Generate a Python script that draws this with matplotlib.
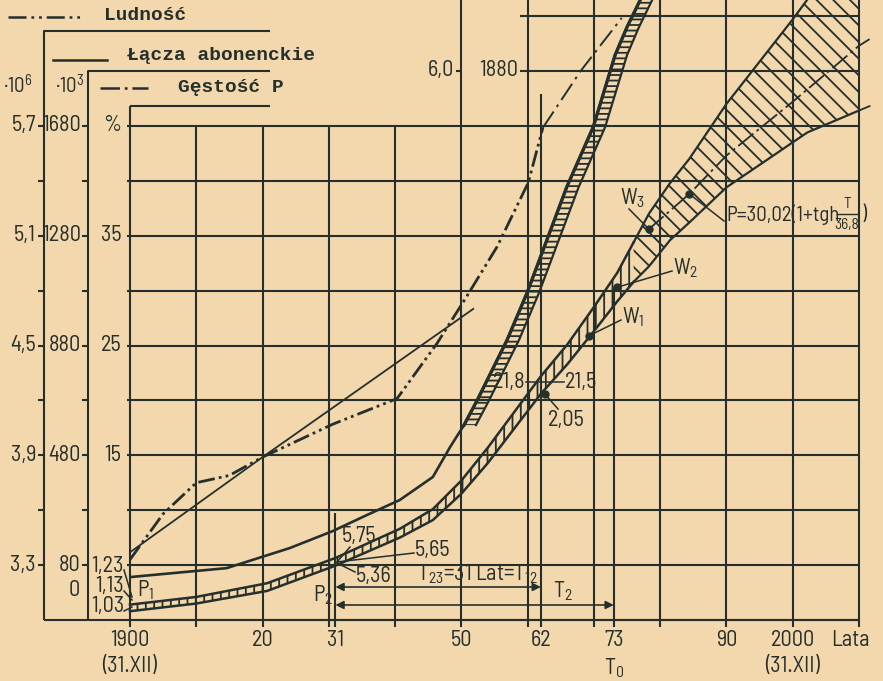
import matplotlib
matplotlib.use("Agg")
import matplotlib.pyplot as plt
from matplotlib import font_manager

W, H, DPI = 883, 681, 100
PAPER = "#f3d7ad"
INK = "#25302c"

names = {f.name for f in font_manager.fontManager.ttflist}
NUM = next((n for n in ("Barlow Semi Condensed", "Barlow Condensed", "Roboto Condensed",
                        "Archivo Narrow", "PT Sans Narrow", "Liberation Sans Narrow")
            if n in names), "Roboto")
NUM_SIZE = 16 if NUM != "Roboto" else 13
MONO = "Liberation Mono"

plt.rcParams["lines.scale_dashes"] = False
plt.rcParams["hatch.linewidth"] = 1.3
plt.rcParams["hatch.color"] = INK
plt.rcParams["mathtext.fontset"] = "custom"
plt.rcParams["mathtext.rm"] = NUM
plt.rcParams["mathtext.it"] = NUM
plt.rcParams["mathtext.bf"] = NUM

# ── Data ──
# Ludność (population), millions
lud_years = [1900, 1905, 1910, 1915, 1920, 1930.6, 1940.3, 1946.3, 1950.5, 1955.4, 1960.1, 1962.3]
lud_mln = [3.33, 3.58, 3.75, 3.79, 3.89, 4.07, 4.21, 4.51, 4.75, 5.04, 5.39, 5.69]
lud_fc_years = [1962.3, 1968.0, 1974.2]
lud_fc_mln = [5.69, 6.00, 6.29]
# thin straight trend line (population scale)
trend_years = [1900, 1920, 1951.8]
trend_mln = [3.37, 3.89, 4.70]

# Łącza abonenckie (subscriber lines), thousands
lacza_years = [1900.3, 1914.6, 1924.1, 1930.6, 1935.8, 1940.7, 1945.7, 1948.3,
               1950.4, 1952.4, 1956.9, 1959.9, 1962.9, 1965.9, 1969.9, 1973.2, 1975.0, 1977.0]
lacza_k = [37, 69, 142, 204, 263, 317, 401, 510,
           590, 681, 900, 1071, 1264, 1457, 1676, 1938, 2040, 2139]
lacza_band_start = 8          # index where the ladder band begins
lacza_band_years = 1.8        # band width, years

# Gęstość P (density), %  — narrow ladder band
dens_years = [1900, 1910, 1920.7, 1931, 1940.7, 1945.7, 1950, 1954, 1958,
              1962, 1966, 1970, 1973.5, 1976]
dens_lo = [0.8, 1.5, 2.65, 4.95, 7.5, 9.1, 11.5, 14.3, 17.45, 20.6, 23.3, 26.3, 29.0, 30.8]
dens_hi = [1.4, 2.1, 3.35, 5.65, 8.3, 10.1, 12.7, 15.7, 18.95, 22.2, 25.1, 28.5, 31.6, 34.4]
# forecast band (hatched)
fc_years = [1976, 1978.3, 1981.5, 1984.4, 1990, 2000, 2002.2, 2010]
fc_lo = [30.8, 32.2, 34.6, 36.2, 39.4, 43.5, 44.4, 46.4]
fc_hi = [34.4, 37.0, 39.8, 42.0, 47.0, 54.7, 56.5, 62.5]
fc_lo_ext = [2010, 2011.6]
fc_lo_ext_val = [46.4, 46.8]
mid_years = [1978.3, 1984.4, 1990, 2000, 2010, 2011.6]
mid_pct = [35.6, 38.8, 42.3, 47.2, 52.3, 52.9]

# marked points
w_years = [1969.3, 1973.5, 1978.3]
w_pct = [25.9, 30.3, 35.6]
pt62 = (1962.6, 20.6)
pt84 = (1984.4, 38.8)

# axis scales (label values)
lud_labels = ["3,3", "3,9", "4,5", "5,1", "5,7"]
lacza_labels = ["80", "480", "880", "1280", "1680"]
pct_labels = ["15", "25", "35", "%"]
year_ticks = [1900, 1920, 1931, 1950, 1962, 1973, 1990, 2000]
year_labels = ["1900", "20", "31", "50", "62", "73", "90", "2000"]


def from_lud(m):
    return (m - 3.0) / 0.3 * 5


def from_lacza(k):
    return (k + 120) / 200 * 5


# ── pixel layout helper (text placement only) ──
SX = 6.627   # px per year
SY = 10.98   # px per percent


def px(x, y):
    return 1900 + (x - 130) / SX, (620 - y) / SY


fig = plt.figure(figsize=(W / DPI, H / DPI), dpi=DPI)
fig.patch.set_facecolor(PAPER)
ax = fig.add_axes([0, 0, 1, 1])
ax.set_facecolor(PAPER)
ax.set_xlim(1900 - 130 / SX, 1900 + (W - 130) / SX)
ax.set_ylim(-(H - 620) / SY, 620 / SY)
ax.axis("off")

GRID = dict(color=INK, lw=1.5, solid_capstyle="butt", zorder=1)

# ── grid ──
for yr in range(1910, 2011, 10):
    top = 45 if yr < 1950 else 60
    ax.plot([yr, yr], [-0.6, top], **GRID)
ax.plot([1900, 1900], [-0.6, px(0, 106)[1]], **GRID)
ax.plot([1931, 1931], [-0.6, 9.7], **GRID)
ax.plot([1962, 1962], [-0.6, 47.9], **GRID)
ax.plot([1973, 1973], [-0.6, 30.3], **GRID)
for p in range(0, 50, 5):
    ax.plot([1899.5 if p else 1900, 2010], [p, p], **GRID)
for p in (50, 55):
    ax.plot([1958.9, 2010], [p, p], **GRID)

# ── left scales ──
x_lud = px(44, 0)[0]
x_lac = px(88, 0)[0]
x_br = px(270, 0)[0]
ax.plot([x_lud, x_lud, x_br], [0, px(0, 31)[1], px(0, 31)[1]], **GRID)
ax.plot([x_lac, x_lac, x_br], [0, px(0, 71)[1], px(0, 71)[1]], **GRID)
ax.plot([1900, x_br], [px(0, 106)[1]] * 2, **GRID)
ax.plot([x_lud, 2010], [0, 0], **GRID)
for p in range(5, 50, 5):
    ax.plot([x_lud - 0.9, x_lud], [p, p], **GRID)
    ax.plot([x_lac - 0.9, x_lac], [p, p], **GRID)

TXT = dict(family=[NUM, "DejaVu Sans"], fontsize=NUM_SIZE, color=INK, va="center")
for i, p in enumerate(range(5, 50, 10)):
    ax.text(x_lud - 1.2, p, lud_labels[i], ha="right", **TXT)
    ax.text(x_lac - 1.1, p, lacza_labels[i], ha="right", **TXT)
for i, p in enumerate(range(15, 50, 10)):
    ax.text(1898.7, p, pct_labels[i], ha="right", **TXT)
ax.text(x_lac - 1.2, from_lacza(0) - 0.3, "0", ha="right", **TXT)
ax.text(*px(32, 86), r"·10$^6$", ha="right", **dict(TXT, fontsize=NUM_SIZE - 1))
ax.text(*px(84, 86), r"·10$^3$", ha="right", **dict(TXT, fontsize=NUM_SIZE - 1))

# upper extension of the scales on the 1950 line
ax.plot([1949.2, 1950], [50, 50], **GRID)
ax.text(1948.9, 50, "6,0", ha="right", **TXT)
ax.text(1952.7, 50, "1880", ha="left", **TXT)

# ── legend ──
LEG = dict(family=MONO, fontweight="bold", fontsize=14, color=INK, va="center")
ax.plot([px(8, 0)[0], px(82, 0)[0]], [px(0, 17)[1]] * 2, color=INK, lw=1.8,
        dashes=[13, 3.5, 2, 3.5, 2, 3.5])
ax.text(*px(104, 16), "Ludność", ha="left", **LEG)
ax.plot([px(53, 0)[0], px(107, 0)[0]], [px(0, 60)[1]] * 2, color=INK, lw=1.8)
ax.text(*px(127, 56), "Łącza abonenckie", ha="left", **LEG)
ax.plot([px(100, 0)[0], px(148, 0)[0]], [px(0, 88)[1]] * 2, color=INK, lw=1.8,
        dashes=[14, 3.5, 2, 3.5])
ax.text(*px(178, 87), "Gęstość P", ha="left", **LEG)

# ── curves ──
ax.plot(trend_years, [from_lud(v) for v in trend_mln], color=INK, lw=1.3, zorder=3)
ax.plot(lud_years, [from_lud(v) for v in lud_mln], color=INK, lw=2.0,
        dashes=[12, 3, 2, 3, 2, 3], zorder=3)
ax.plot(lud_fc_years, [from_lud(v) for v in lud_fc_mln], color=INK, lw=1.4,
        dashes=[14, 4, 2, 4], zorder=3)

lac_pct = [from_lacza(v) for v in lacza_k]
ax.plot(lacza_years, lac_pct, color=INK, lw=1.9, zorder=4)
by = lac_pct[lacza_band_start:]
bx = lacza_years[lacza_band_start:]
bx2 = [v + lacza_band_years for v in bx]
ax.fill_betweenx(by, bx, bx2, facecolor="none", edgecolor=INK, hatch="---",
                 linewidth=0, zorder=3)
ax.plot(bx, by, color=INK, lw=2.4, zorder=4)
ax.plot(bx2, by, color=INK, lw=1.6, zorder=4)

# density ladder band
ax.fill_between(dens_years, dens_lo, dens_hi, facecolor="none", edgecolor=INK,
                hatch="||", linewidth=0, zorder=3)
ax.plot(dens_years, dens_lo, color=INK, lw=1.8, zorder=4)
ax.plot(dens_years, dens_hi, color=INK, lw=1.8, zorder=4)
# forecast band
ax.fill_between(fc_years, fc_lo, fc_hi, facecolor="none", edgecolor=INK,
                hatch="\\\\", linewidth=0, zorder=3)
ax.plot(fc_years, fc_lo, color=INK, lw=1.6, zorder=4)
ax.plot(fc_years, fc_hi, color=INK, lw=1.6, zorder=4)
ax.plot(fc_lo_ext, fc_lo_ext_val, color=INK, lw=1.3, zorder=4)
ax.plot(mid_years, mid_pct, color=INK, lw=1.3, dashes=[14, 3, 2, 3], zorder=4)

for x, y in list(zip(w_years, w_pct)) + [pt62, pt84]:
    ax.plot(x, y, "o", color=INK, ms=5, zorder=5)

# ── annotations ──
LEAD = dict(color=INK, lw=1.1, zorder=5)
SMALL = dict(TXT, fontsize=NUM_SIZE - 5)


def leader(a, b):
    ax.plot([a[0], b[0]], [a[1], b[1]], **LEAD)


for lab, yy, end in (("1,23", 566, (132, 597)), ("1,13", 587, (132, 600)),
                     ("1,03", 607, (132, 607))):
    ax.text(*px(124, yy), lab, ha="right", **TXT)
    leader(px(124, yy + 4), px(*end))
ax.text(*px(137, 590), r"P$_1$", ha="left", **TXT)
ax.text(*px(313, 595), r"P$_2$", ha="left", **TXT)

ax.text(*px(342, 537), "5,75", ha="left", **TXT)
leader(px(337, 562), px(350, 547))
ax.text(*px(415, 551), "5,65", ha="left", **TXT)
leader(px(337, 562), px(414, 553))
ax.text(*px(356, 577), "5,36", ha="left", **TXT)
leader(px(337, 563), px(355, 572))
ax.text(*px(417, 574), r"T$_{23}$=31 Lat=T$_{12}$", ha="left", **TXT)

for yy, x_end in ((587, 1962), (605, 1973)):
    ax.annotate("", xy=(1931, px(0, yy)[1]), xytext=(x_end, px(0, yy)[1]),
                arrowprops=dict(arrowstyle="<|-|>", color=INK, lw=1.2,
                                mutation_scale=12, shrinkA=0, shrinkB=0))
ax.text(*px(553, 591), r"T$_2$", ha="left", **TXT)

ax.text(*px(526, 382), "21,8", ha="right", **TXT)
leader(px(526, 382), px(564, 382))
ax.text(*px(565, 382), "21,5", ha="left", **TXT)
ax.text(*px(548, 421), "2,05", ha="left", **TXT)
leader(pt62, px(558, 409))

leader((w_years[0], w_pct[0]), px(621, 320))
ax.text(*px(622, 317), r"W$_1$", ha="left", **TXT)
leader((w_years[1], w_pct[1]), px(672, 271))
ax.text(*px(673, 268), r"W$_2$", ha="left", **TXT)
leader((w_years[2], w_pct[2]), px(629, 209))
ax.text(*px(620, 198), r"W$_3$", ha="left", **TXT)

leader(pt84, px(724, 221))
ax.text(*px(726, 215), "P=30,02(1+tgh", ha="left", **dict(TXT, fontsize=NUM_SIZE - 1))
ax.text(*px(847, 204), "T", ha="center", **SMALL)
ax.plot([px(837, 0)[0], px(858, 0)[0]], [px(0, 214)[1]] * 2, color=INK, lw=1.0)
ax.text(*px(847, 225), "36,8", ha="center", **SMALL)
ax.text(*px(861, 214), ")", ha="left", **dict(TXT, fontsize=NUM_SIZE - 1))

# ── x labels ──
for yr, lab in zip(year_ticks, year_labels):
    ax.text(yr, px(0, 641)[1], lab, ha="center", **TXT)
ax.text(1900, px(0, 667)[1], "(31.XII)", ha="center", **TXT)
ax.text(2000, px(0, 667)[1], "(31.XII)", ha="center", **TXT)
ax.text(1973, px(0, 668)[1], r"T$_0$", ha="center", **TXT)
ax.text(*px(831, 641), "Lata", ha="left", **TXT)

fig.savefig("out.png", dpi=DPI, facecolor=PAPER)
